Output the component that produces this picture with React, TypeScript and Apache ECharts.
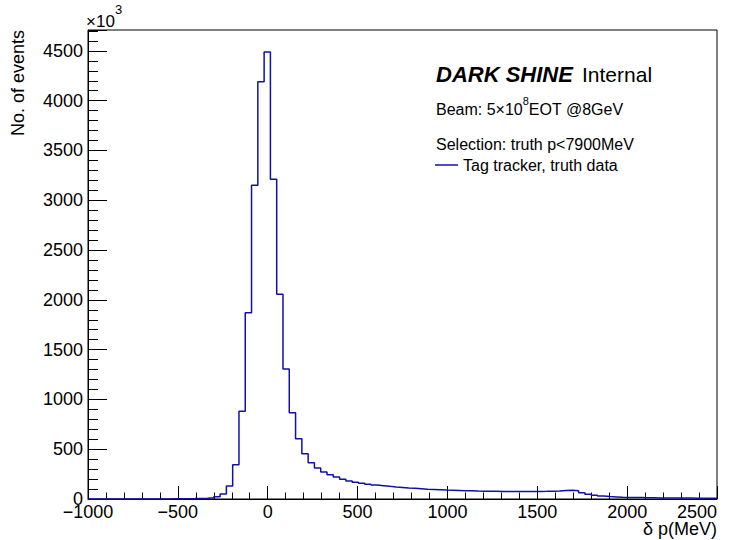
import React, { useEffect, useRef } from "react";
import * as echarts from "echarts";

// Histogram binning (x axis, MeV)
const BIN_START = -1000;
const BIN_WIDTH = 35;

// Bin contents, in units of 10^3 events (100 bins from -1000 to 2500 MeV)
const counts = [
  0, 0, 0, 0, 0, 0, 0, 0, 0, 0,
  0.3, 0.5, 1, 1.5, 2, 3, 4, 6, 8, 12,
  22, 50, 130, 345, 880, 1870, 3150, 4190, 4490, 3210,
  2055, 1305, 866, 605, 455, 365, 312, 270, 243, 220,
  198, 181, 169, 158, 149, 141, 134, 127, 121, 116,
  111, 107, 103, 99, 96, 93, 90, 88, 86, 84,
  82, 80, 79, 78, 77, 76, 75, 75, 75, 75,
  76, 76, 77, 79, 81, 85, 89, 84, 63, 47,
  37, 29, 24, 21, 18, 16, 15, 14, 13, 12,
  11, 11, 10, 10, 9, 9, 8, 8, 7, 7,
];

const X_MIN = -1000;
const X_MAX = 2500;
const Y_MIN = 0;
const Y_MAX = 4710;

const seriesName = "Tag tracker, truth data";
const xTitle = "\u03b4 p(MeV)";
const yTitle = "No. of events";
const expBase = "\u00d710";
const expPow = "3";
const titleBold = "DARK SHINE";
const titleRest = "Internal";
const beamPre = "Beam: 5\u00d710";
const beamSup = "8";
const beamPost = "EOT @8GeV";
const selectionText = "Selection: truth p<7900MeV";

const FONT = "'Liberation Sans', Arial, Helvetica, sans-serif";
const LINE_COLOR = "#1010a8";

function buildSteps(): number[][] {
  const pts: number[][] = [];
  counts.forEach((c, i) => {
    const lo = BIN_START + i * BIN_WIDTH;
    const hi = lo + BIN_WIDTH;
    pts.push([lo, c]);
    pts.push([hi, c]);
  });
  return pts;
}

export default function App() {
  const ref = useRef<HTMLDivElement>(null);
  useEffect(() => {
    if (!ref.current) return;
    const chart = echarts.init(ref.current, undefined, { renderer: "svg" });
    const minus = (v: number) => (v < 0 ? "\u2212" + Math.abs(v) : String(v));
    chart.setOption({
      animation: false,
      backgroundColor: "#fff",
      textStyle: { fontFamily: FONT },
      grid: {
        left: 88,
        top: 30,
        width: 629,
        height: 469,
        show: true,
        borderColor: "#000",
        borderWidth: 1,
        containLabel: false,
      },
      legend: {
        data: [seriesName],
        left: 435,
        top: 157,
        padding: 0,
        icon: "rect",
        itemWidth: 23,
        itemHeight: 1.5,
        textStyle: { fontSize: 16, color: "#000", fontFamily: FONT },
      },
      xAxis: [
        {
          type: "value",
          min: X_MIN,
          max: X_MAX,
          interval: 500,
          position: "bottom",
          axisLine: { show: true, onZero: false, lineStyle: { color: "#000", width: 1 } },
          axisTick: { show: true, inside: true, length: 13, lineStyle: { color: "#000" } },
          axisLabel: {
            show: true,
            fontSize: 18,
            color: "#000",
            fontFamily: FONT,
            margin: 4,
            alignMaxLabel: "right",
            formatter: minus,
          },
          splitLine: { show: false },
        },
        {
          type: "value",
          min: X_MIN,
          max: X_MAX,
          interval: 100,
          position: "bottom",
          axisLine: { show: false, onZero: false },
          axisTick: { show: true, inside: true, length: 6.5, lineStyle: { color: "#000" } },
          axisLabel: { show: false },
          splitLine: { show: false },
        },
      ],
      yAxis: [
        {
          type: "value",
          min: Y_MIN,
          max: Y_MAX,
          interval: 500,
          position: "left",
          axisLine: { show: true, onZero: false, lineStyle: { color: "#000", width: 1 } },
          axisTick: { show: true, inside: true, length: 19, lineStyle: { color: "#000" } },
          axisLabel: {
            show: true,
            fontSize: 18,
            color: "#000",
            fontFamily: FONT,
            margin: 5,
            formatter: (v: number) => (v % 500 === 0 ? String(v) : ""),
          },
          splitLine: { show: false },
        },
        {
          type: "value",
          min: Y_MIN,
          max: Y_MAX,
          interval: 100,
          position: "left",
          axisLine: { show: false, onZero: false },
          axisTick: { show: true, inside: true, length: 10, lineStyle: { color: "#000" } },
          axisLabel: { show: false },
          splitLine: { show: false },
        },
      ],
      series: [
        {
          name: seriesName,
          type: "line",
          xAxisIndex: 0,
          yAxisIndex: 0,
          data: buildSteps(),
          showSymbol: false,
          symbol: "none",
          clip: true,
          lineStyle: { color: LINE_COLOR, width: 1.5 },
          itemStyle: { color: LINE_COLOR },
        },
      ],
      graphic: [
        {
          type: "text",
          x: 18,
          y: 30,
          rotation: Math.PI / 2,
          style: { text: yTitle, fontSize: 18, fontFamily: FONT, fill: "#000", align: "right", verticalAlign: "middle" },
        },
        {
          type: "text",
          x: 717,
          y: 529,
          style: { text: xTitle, fontSize: 18, fontFamily: FONT, fill: "#000", align: "right", verticalAlign: "middle" },
        },
        {
          type: "text",
          x: 86,
          y: 21,
          style: { text: expBase, fontSize: 17, fontFamily: FONT, fill: "#000", align: "left", verticalAlign: "middle" },
        },
        {
          type: "text",
          x: 115,
          y: 9,
          style: { text: expPow, fontSize: 13, fontFamily: FONT, fill: "#000", align: "left", verticalAlign: "middle" },
        },
        {
          type: "text",
          x: 436,
          y: 74,
          style: {
            text: titleBold,
            fontSize: 22,
            fontWeight: "bold",
            fontStyle: "italic",
            fontFamily: FONT,
            fill: "#000",
            align: "left",
            verticalAlign: "middle",
          },
        },
        {
          type: "text",
          x: 582,
          y: 74,
          style: { text: titleRest, fontSize: 21, fontFamily: FONT, fill: "#000", align: "left", verticalAlign: "middle" },
        },
        {
          type: "text",
          x: 436,
          y: 106,
          style: {
            text: "{n|" + beamPre + "}{s|" + beamSup + "}{n|" + beamPost + "}",
            fontFamily: FONT,
            fill: "#000",
            align: "left",
            verticalAlign: "middle",
            rich: {
              n: { fontSize: 16, fontFamily: FONT, fill: "#000", lineHeight: 22, verticalAlign: "bottom" },
              s: { fontSize: 11, fontFamily: FONT, fill: "#000", lineHeight: 12, verticalAlign: "top" },
            },
          },
        },
        {
          type: "text",
          x: 436,
          y: 144,
          style: { text: selectionText, fontSize: 16, fontFamily: FONT, fill: "#000", align: "left", verticalAlign: "middle" },
        },
      ],
    });
    return () => chart.dispose();
  }, []);
  return (
    <div
      ref={ref}
      style={{ position: "fixed", left: 0, top: 0, width: 740, height: 540, background: "#fff" }}
    />
  );
}
